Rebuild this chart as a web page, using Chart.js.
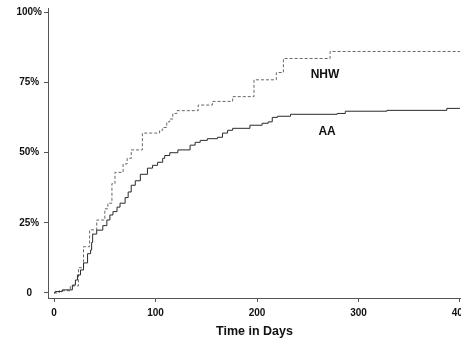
<!DOCTYPE html>
<html>
<head>
<meta charset="utf-8">
<script src="https://cdn.jsdelivr.net/npm/chart.js@4/dist/chart.umd.min.js"></script>
<style>
  html, body { margin: 0; padding: 0; background: #fff; overflow: hidden; }
  #wrap { width: 461px; height: 343px; position: relative; }
</style>
</head>
<body>
<div id="wrap"><canvas id="kmChart"></canvas></div>
<script>
// cumulative incidence, step curves (days, percent)
const aaDays = [0, 1, 8, 18, 21, 23, 26, 29, 33, 36, 37, 38, 42, 48, 52, 55, 58, 62, 65, 70,
    73, 76, 80, 85, 92, 97, 102, 107, 109, 114, 122, 134, 139, 144, 151, 161, 166, 171, 176, 193,
    205, 211, 215, 220, 233, 279, 287, 328, 387, 400];
const aaPct = [0, 0.5, 1.1, 2.8, 4.6, 6.4, 8.2, 10.7, 14, 15.3, 18, 21, 22.4, 24, 26, 27.8, 29, 30.6, 32, 34,
    36, 38.4, 40, 42.3, 44.5, 45.5, 46.6, 48, 49, 50, 51, 52.7, 53.7, 54.4, 55, 55.5, 57, 58, 58.7, 59.8,
    60.5, 61, 62.6, 63, 63.7, 64, 64.8, 65.1, 65.8, 65.8];

const nhwDays = [0, 5, 16, 24, 29, 35, 42, 50, 53, 57, 60, 68, 72, 76, 87, 104, 107, 111, 114, 117,
    121, 142, 156, 176, 197, 219, 226, 272, 400];
const nhwPct = [0, 0.8, 2.5, 9, 16.5, 22.5, 26, 30, 32, 39, 43, 46, 48, 51, 57, 58, 59, 61, 62, 64,
    65, 67, 68.3, 70, 76, 78.6, 83.6, 86.1, 86.1];

const xTicks = [0, 100, 200, 300, 400];
const yTicks = [0, 25, 50, 75, 100];
const yTickLabels = ['0', '25%', '50%', '75%', '100%'];

// curve labels placed in data units
const curveLabels = [
    { text: 'NHW', x: 267, y: 78 },
    { text: 'AA', x: 269, y: 57.5 }
];

function toPoints(xs, ys) {
    return xs.map((x, i) => ({ x: x, y: ys[i] }));
}

const labelPlugin = {
    id: 'curveLabels',
    afterDatasetsDraw(chart) {
        const ctx = chart.ctx;
        const xs = chart.scales.x, ys = chart.scales.y;
        ctx.save();
        ctx.fillStyle = '#111';
        ctx.font = 'bold 12px "Liberation Sans", Arial, sans-serif';
        ctx.textAlign = 'center';
        ctx.textBaseline = 'middle';
        curveLabels.forEach(l => {
            ctx.fillText(l.text, xs.getPixelForValue(l.x), ys.getPixelForValue(l.y));
        });
        ctx.restore();
    }
};

const tickFont = { family: '"Liberation Sans", Arial, sans-serif', size: 10, weight: 'bold' };

const config = {
    type: 'line',
    data: {
        datasets: [{
            label: 'AA',
            data: toPoints(aaDays, aaPct),
            stepped: 'before',
            borderColor: '#2a2a2a',
            borderWidth: 1,
            pointRadius: 0,
            fill: false
        }, {
            label: 'NHW',
            data: toPoints(nhwDays, nhwPct),
            stepped: 'before',
            borderColor: '#666',
            borderWidth: 1,
            borderDash: [3, 2],
            pointRadius: 0,
            fill: false
        }]
    },
    options: {
        responsive: true,
        maintainAspectRatio: false,
        animation: false,
        layout: { padding: { top: 8, right: 0, left: 0, bottom: 0 } },
        plugins: {
            legend: { display: false },
            tooltip: { enabled: false }
        },
        scales: {
            x: {
                type: 'linear',
                min: -6,
                max: 401,
                afterBuildTicks: s => { s.ticks = xTicks.map(v => ({ value: v })); },
                afterFit: s => { s.height = 45; s.paddingLeft = 0; s.paddingRight = 0; },
                ticks: {
                    color: '#111',
                    font: tickFont,
                    padding: 5,
                    maxRotation: 0,
                    autoSkip: false
                },
                grid: {
                    drawOnChartArea: false,
                    drawTicks: true,
                    tickLength: 4,
                    tickColor: '#555'
                },
                border: { display: true, color: '#555', width: 1 },
                title: {
                    display: true,
                    text: 'Time in Days',
                    color: '#111',
                    font: { family: '"Liberation Sans", Arial, sans-serif', size: 12.5, weight: 'bold' },
                    padding: { top: 4, bottom: 4 }
                }
            },
            y: {
                type: 'linear',
                min: -1.8,
                max: 101.6,
                afterBuildTicks: s => { s.ticks = yTicks.map(v => ({ value: v })); },
                afterFit: s => { s.width = 48; s.paddingTop = 0; s.paddingBottom = 0; },
                ticks: {
                    color: '#111',
                    font: tickFont,
                    padding: 2,
                    crossAlign: 'center',
                    autoSkip: false,
                    callback: v => yTickLabels[yTicks.indexOf(v)]
                },
                grid: {
                    drawOnChartArea: false,
                    drawTicks: true,
                    tickLength: 4,
                    tickColor: '#555'
                },
                border: { display: true, color: '#555', width: 1 }
            }
        }
    },
    plugins: [labelPlugin]
};

var kmChart = new Chart(document.getElementById('kmChart'), config);
</script>
</body>
</html>
